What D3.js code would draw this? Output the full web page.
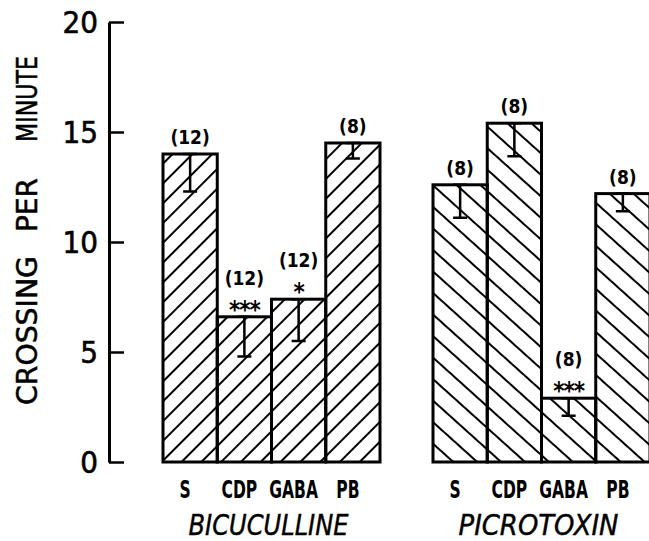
<!DOCTYPE html>
<html>
<head>
<meta charset="utf-8">
<script src="https://cdn.jsdelivr.net/npm/d3@7"></script>
<style>
  body { margin: 0; background: #fff; }
  text { font-family: "DejaVu Sans Condensed", "DejaVu Sans", sans-serif; fill: #000; }
</style>
</head>
<body>
<div id="chart"></div>
<script>
// values
const groups = ["BICUCULLINE", "PICROTOXIN"];
const categories = ["S", "CDP", "GABA", "PB"];
const bicMeans = [14.0, 6.6, 7.4, 14.5];
const bicSE = [1.7, 1.8, 1.9, 0.7];
const picMeans = [12.6, 15.4, 2.9, 12.2];
const picSE = [1.5, 1.5, 0.8, 0.8];
const bicN = ["(12)", "(12)", "(12)", "(8)"];
const picN = ["(8)", "(8)", "(8)", "(8)"];
const bicSig = ["", "***", "*", ""];
const picSig = ["", "", "***", ""];
const yTicks = [0, 5, 10, 15, 20];
const yTitleWords = ["MINUTE", "PER", "CROSSING"];

const WIDTH = 649, HEIGHT = 541;

const svg = d3.select("#chart").append("svg")
    .attr("width", WIDTH)
    .attr("height", HEIGHT);

// hatching, "/" for left group and "\" for right group
const defs = svg.append("defs");
function hatch(id, angle, gap) {
    const p = defs.append("pattern")
        .attr("id", id)
        .attr("patternUnits", "userSpaceOnUse")
        .attr("width", gap)
        .attr("height", gap)
        .attr("patternTransform", `rotate(${angle})`);
    p.append("line")
        .attr("x1", gap / 2).attr("y1", 0)
        .attr("x2", gap / 2).attr("y2", gap)
        .attr("stroke", "#000")
        .attr("stroke-width", 2);
}
hatch("hatchA", 45, 14);
hatch("hatchB", -48, 16);

const y = d3.scaleLinear().domain([0, 20]).range([462, 22]);

// y axis: line with ticks pointing right
const axis = svg.append("g").attr("transform", "translate(109,0)");
axis.call(d3.axisRight(y).tickValues(yTicks).tickSize(15).tickSizeOuter(0).tickFormat(""));
axis.select(".domain").attr("stroke-width", 3);
axis.selectAll(".tick line").attr("stroke-width", 2.5);

svg.selectAll(".ytick")
    .data(yTicks)
    .enter()
    .append("text")
    .classed("ytick", true)
    .attr("x", 98)
    .attr("y", d => y(d))
    .attr("dy", "0.36em")
    .attr("text-anchor", "end")
    .attr("font-size", 31)
    .attr("stroke", "#000")
    .attr("stroke-width", 0.6)
    .text(d => d);

// axis title, words spread out along the axis (top to bottom = end to start)
const titleSpans = {MINUTE: [56, 142], PER: [178, 232], CROSSING: [256, 405]};
svg.selectAll(".ytitle")
    .data(yTitleWords)
    .enter()
    .append("text")
    .classed("ytitle", true)
    .attr("transform", d => `translate(37,${(titleSpans[d][0] + titleSpans[d][1]) / 2}) rotate(-90)`)
    .attr("text-anchor", "middle")
    .attr("font-size", 28)
    .attr("textLength", d => titleSpans[d][1] - titleSpans[d][0])
    .attr("lengthAdjust", "spacingAndGlyphs")
    .attr("stroke", "#000")
    .attr("stroke-width", 0.5)
    .text(d => d);

const groupData = [
    {name: groups[0], means: bicMeans, se: bicSE, n: bicN, sig: bicSig, range: [163, 380], fill: "url(#hatchA)"},
    {name: groups[1], means: picMeans, se: picSE, n: picN, sig: picSig, range: [433, 650], fill: "url(#hatchB)"}
];

groupData.forEach(g => {
    const x = d3.scaleBand().domain(categories).range(g.range).padding(0);
    const rows = categories.map((c, i) => ({cat: c, mean: g.means[i], se: g.se[i], n: g.n[i], sig: g.sig[i]}));
    const grp = svg.append("g");

    grp.selectAll(".bar")
        .data(rows)
        .enter()
        .append("rect")
        .classed("bar", true)
        .attr("x", d => x(d.cat))
        .attr("y", d => y(d.mean))
        .attr("width", x.bandwidth())
        .attr("height", d => y(0) - y(d.mean))
        .attr("fill", g.fill)
        .attr("stroke", "#000")
        .attr("stroke-width", 3);

    // error bars hang down inside the bar
    const cx = d => x(d.cat) + x.bandwidth() / 2;
    grp.selectAll(".err")
        .data(rows)
        .enter()
        .append("path")
        .classed("err", true)
        .attr("d", d => `M${cx(d) - 7},${y(d.mean)}H${cx(d) + 7}M${cx(d)},${y(d.mean)}V${y(d.mean - d.se)}M${cx(d) - 7},${y(d.mean - d.se)}H${cx(d) + 7}`)
        .attr("fill", "none")
        .attr("stroke", "#000")
        .attr("stroke-width", 2.5);

    grp.selectAll(".sig")
        .data(rows.filter(d => d.sig))
        .enter()
        .append("text")
        .classed("sig", true)
        .attr("x", cx)
        .attr("y", d => y(d.mean) + 1)
        .attr("text-anchor", "middle")
        .attr("font-size", 24)
        .attr("font-weight", "bold")
        .attr("letter-spacing", -1)
        .text(d => d.sig);

    grp.selectAll(".nlab")
        .data(rows)
        .enter()
        .append("text")
        .classed("nlab", true)
        .attr("x", cx)
        .attr("y", d => y(d.mean) - (d.sig ? 32 : 10))
        .attr("text-anchor", "middle")
        .attr("font-size", 19)
        .attr("font-weight", "bold")
        .text(d => d.n);

    grp.selectAll(".cat")
        .data(rows)
        .enter()
        .append("text")
        .classed("cat", true)
        .attr("transform", d => `translate(${cx(d) - 5},498) scale(0.72,1)`)
        .attr("text-anchor", "middle")
        .attr("font-size", 24)
        .attr("font-weight", "bold")
        .text(d => d.cat);

    grp.append("text")
        .attr("x", (g.range[0] + g.range[1]) / 2 - 3)
        .attr("y", 535)
        .attr("text-anchor", "middle")
        .attr("font-size", 29)
        .attr("font-style", "italic")
        .attr("textLength", 160)
        .attr("lengthAdjust", "spacingAndGlyphs")
        .attr("stroke", "#000")
        .attr("stroke-width", 0.4)
        .text(g.name);
});
</script>
</body>
</html>
